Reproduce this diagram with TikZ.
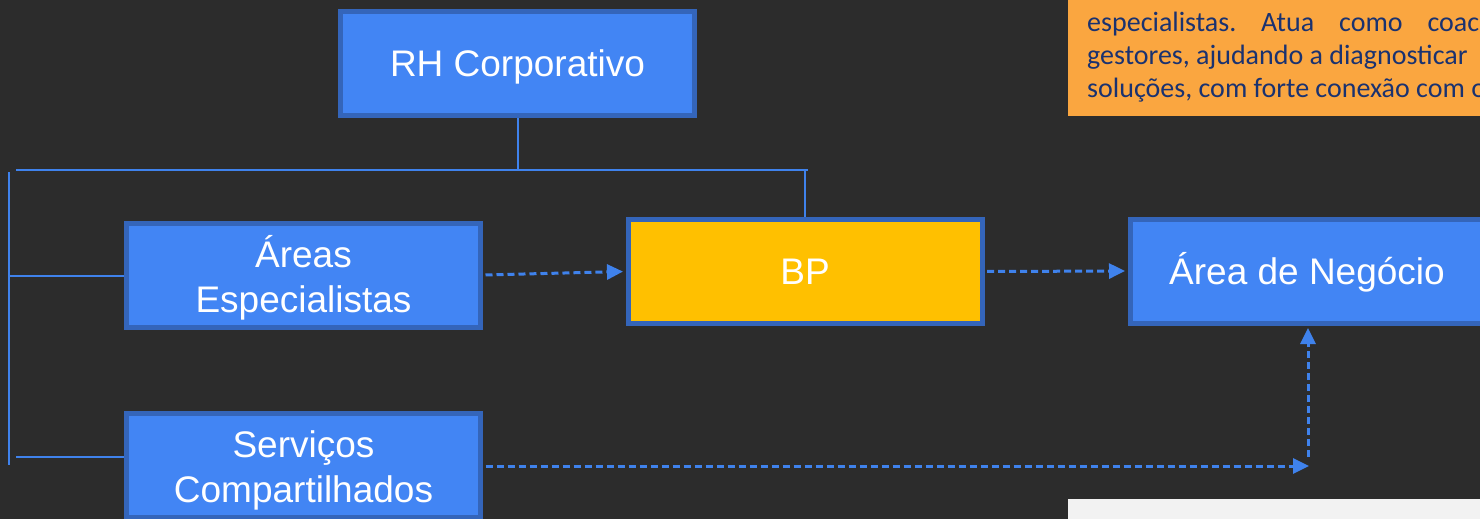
\documentclass[tikz,border=0pt]{standalone}
\usepackage{fontspec}
\setmainfont{Liberation Sans}
\newfontfamily\notefont{Carlito}
\usetikzlibrary{arrows.meta}

\definecolor{bgdark}{HTML}{2C2C2C}
\definecolor{boxblue}{HTML}{4285F4}
\definecolor{boxedge}{HTML}{3465BA}
\definecolor{linkblue}{HTML}{3F82EC}
\definecolor{bpyellow}{HTML}{FFC000}
\definecolor{noteorange}{HTML}{FAA640}
\definecolor{notetext}{HTML}{1A3270}
\definecolor{notegrey}{HTML}{F2F2F2}

\tikzset{
  orgbox/.style={draw=boxedge, line width=5pt, fill=boxblue, text=white,
    minimum width=354pt, minimum height=104pt, inner sep=0pt, align=center,
    font=\fontsize{37pt}{44.5pt}\selectfont, text height=26.5pt, text depth=0pt},
  twoline/.style={text height=74pt, text depth=0pt},
  treeline/.style={draw=linkblue, line width=2pt},
  dasharrow/.style={draw=linkblue, line width=3pt, dash pattern=on 7pt off 4pt,
    -{Triangle[length=16pt,width=15pt]}, shorten <=2.5pt, shorten >=2.5pt},
  noteline/.style={anchor=base west, inner sep=0pt, text=notetext,
    font=\notefont\fontsize{28pt}{33pt}\selectfont}
}

\begin{document}
\frenchspacing
\begin{tikzpicture}[x=1pt, y=-1pt]
  \useasboundingbox (0,0) rectangle (1480,519);
  \clip (0,0) rectangle (1480,519);
  \fill[bgdark] (0,0) rectangle (1480,519);

  % explanatory notes on the right
  \fill[noteorange] (1068,-10) rectangle (1490,116);
  \fill[notegrey] (1068,499) rectangle (1490,530);
  \node[noteline] (note1) at (1087,32) {\makebox[392pt][s]{especialistas. Atua como coac}};
  \node[noteline] (note2) at (1087,64.5) {gestores, ajudando a diagnosticar};
  \node[noteline] (note3) at (1087,97.5) {soluções, com forte conexão com o};

  % boxes
  \node[orgbox] (rh) at (517.5,63.5) {RH Corporativo};
  \node[orgbox, twoline] (areas) at (303.5,275) {Áreas\\Especialistas};
  \node[orgbox, fill=bpyellow] (bp) at (805,271.5) {BP};
  \node[orgbox] (neg) at (1307,271) {Área de Negócio};
  \node[orgbox, twoline] (serv) at (303.5,465) {Serviços\\Compartilhados};

  % hierarchy lines
  \coordinate (hbarL) at (16,170);
  \coordinate (hbarR) at (808,170);
  \coordinate (vtop) at (9,172);
  \coordinate (vbot) at (9,465);
  \coordinate (brA) at (9,276);
  \coordinate (brS) at (16,457);
  \draw[treeline] (rh.south) -- (rh.south |- hbarL);
  \draw[treeline] (hbarL) -- (hbarR);
  \draw[treeline] (bp.north |- hbarL) -- (bp.north);
  \draw[treeline] (vtop) -- (vbot);
  \draw[treeline] (brA) -- (areas.west |- brA);
  \draw[treeline] (brS) -- (serv.west |- brS);

  % dashed flows
  \coordinate (turn) at (1309,466);
  \coordinate (rise) at (1308,457);
  \draw[dasharrow] (areas.east) -- (bp.west);
  \draw[dasharrow] (bp.east) -- (neg.west);
  \draw[dasharrow, shorten >=0pt] (serv.east |- turn) -- (turn);
  \draw[dasharrow, shorten <=0pt] (rise) -- (neg.south -| rise);
\end{tikzpicture}
\end{document}
